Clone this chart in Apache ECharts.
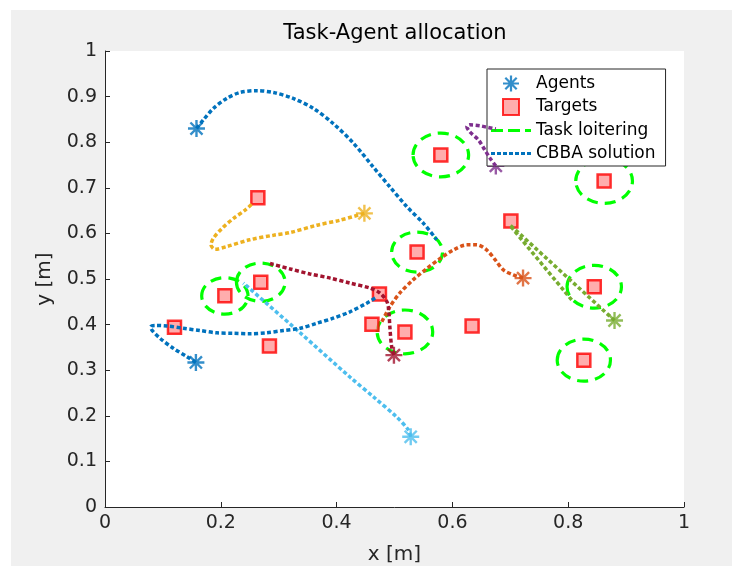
<!DOCTYPE html>
<html>
<head>
<meta charset="utf-8">
<script src="https://cdn.jsdelivr.net/npm/echarts@6/dist/echarts.min.js"></script>
<style>
  html, body { margin: 0; padding: 0; background: #ffffff; }
  #chart { position: absolute; left: 11px; top: 10px; width: 721px; height: 556px; background: #f0f0f0; }
</style>
</head>
<body>
<div id="chart"></div>
<script>
// Agent start positions [x, y] in metres, one colour per agent
const agentColors = ['#0072BD', '#D95319', '#EDB120', '#7E2F8E', '#77AC30', '#4DBEEE', '#A2142F', '#0072BD'];
const agents = [
  [0.158, 0.830], [0.722, 0.502], [0.448, 0.644], [0.675, 0.748],
  [0.880, 0.409], [0.528, 0.154], [0.499, 0.333], [0.157, 0.317]
];

// Target positions [x, y]
const targets = [
  [0.264, 0.678], [0.207, 0.463], [0.269, 0.493], [0.120, 0.394], [0.284, 0.353],
  [0.539, 0.559], [0.474, 0.467], [0.461, 0.401], [0.518, 0.384], [0.580, 0.772],
  [0.862, 0.715], [0.701, 0.627], [0.634, 0.397], [0.845, 0.483], [0.827, 0.322]
];

// Loitering circles: centre [x, y] and radius
const loiterCenters = [
  [0.207, 0.463], [0.269, 0.493], [0.539, 0.559], [0.518, 0.384],
  [0.580, 0.772], [0.862, 0.715], [0.845, 0.483], [0.827, 0.322]
];
const loiterRadii = [0.040, 0.042, 0.044, 0.048, 0.048, 0.049, 0.047, 0.046];

// CBBA paths, one per agent
const pathAgent1 = [
  [0.158, 0.830], [0.170, 0.849], [0.187, 0.874], [0.210, 0.896], [0.233, 0.909],
  [0.262, 0.913], [0.291, 0.909], [0.325, 0.896], [0.360, 0.874], [0.394, 0.841],
  [0.429, 0.798], [0.463, 0.746], [0.492, 0.702], [0.521, 0.659], [0.550, 0.622],
  [0.573, 0.586]
];
const pathAgent2 = [
  [0.722, 0.502], [0.705, 0.509], [0.688, 0.520], [0.674, 0.542], [0.659, 0.564],
  [0.642, 0.575], [0.625, 0.575], [0.602, 0.564], [0.579, 0.545], [0.556, 0.523],
  [0.532, 0.498], [0.509, 0.469], [0.492, 0.439], [0.478, 0.406]
];
const pathAgent3 = [
  [0.448, 0.644], [0.406, 0.629], [0.366, 0.618], [0.320, 0.602], [0.291, 0.596],
  [0.250, 0.586], [0.210, 0.571], [0.190, 0.565], [0.183, 0.575], [0.187, 0.589],
  [0.202, 0.611], [0.222, 0.633], [0.242, 0.651], [0.256, 0.667]
];
const pathAgent4 = [
  [0.675, 0.748], [0.665, 0.765], [0.656, 0.783], [0.645, 0.805], [0.630, 0.823],
  [0.625, 0.834], [0.630, 0.838], [0.648, 0.836], [0.659, 0.833], [0.675, 0.829]
];
const pathAgent5 = [
  [0.880, 0.409], [0.700, 0.618], [0.703, 0.612], [0.806, 0.454]
];
const pathAgent6 = [
  [0.528, 0.154], [0.524, 0.169], [0.504, 0.197], [0.466, 0.239], [0.423, 0.285],
  [0.337, 0.382], [0.239, 0.491]
];
const pathAgent7 = [
  [0.499, 0.333], [0.495, 0.352], [0.492, 0.395], [0.490, 0.432], [0.487, 0.450],
  [0.475, 0.469], [0.458, 0.480], [0.423, 0.491], [0.389, 0.502], [0.354, 0.511],
  [0.320, 0.522], [0.285, 0.534]
];
const pathAgent8 = [
  [0.157, 0.317], [0.141, 0.330], [0.118, 0.348], [0.095, 0.370], [0.081, 0.388],
  [0.079, 0.395], [0.086, 0.398], [0.107, 0.397], [0.135, 0.392], [0.164, 0.387],
  [0.193, 0.382], [0.222, 0.381], [0.250, 0.380], [0.279, 0.382], [0.308, 0.387],
  [0.337, 0.392], [0.366, 0.403], [0.394, 0.414], [0.423, 0.428], [0.452, 0.447],
  [0.469, 0.460]
];
const agentPaths = [pathAgent1, pathAgent2, pathAgent3, pathAgent4, pathAgent5, pathAgent6, pathAgent7, pathAgent8];

// Tick labels
const xTicks = ['0', '0.2', '0.4', '0.6', '0.8', '1'];
const yTicks = ['0', '0.1', '0.2', '0.3', '0.4', '0.5', '0.6', '0.7', '0.8', '0.9', '1'];

const FONT = 'DejaVu Sans';
const AXIS_COLOR = '#262626';

// Eight-armed asterisk marker and square marker
const STAR = 'path://M0 43H100V57H0Z M43 0H57V100H43Z M19.4 9.5L90.5 80.6L80.6 90.5L9.5 19.4Z M80.6 9.5L90.5 19.4L19.4 90.5L9.5 80.6Z';
const SQUARE = 'path://M0 0H10V10H0Z';
const DASH_ICON = 'path://M0 0H12V3H0Z M17 0H29V3H17Z M34 0H40V3H34Z';
const DOT_ICON = 'path://M0 0H4V3H0Z M6 0H10V3H6Z M12 0H16V3H12Z M18 0H22V3H18Z M24 0H28V3H24Z M30 0H34V3H30Z M36 0H40V3H36Z';

const chart = echarts.init(document.getElementById('chart'), null, { renderer: 'canvas' });

const pathSeries = agentPaths.map((p, i) => ({
  name: 'CBBA solution',
  type: 'line',
  data: p,
  color: agentColors[i],
  symbol: 'none',
  showSymbol: false,
  smooth: 0.3,
  silent: true,
  itemStyle: { color: agentColors[i] },
  lineStyle: { color: agentColors[i], width: 3.5, type: [4, 2.5] },
  z: 4
}));

const option = {
  animation: false,
  backgroundColor: '#f0f0f0',
  title: {
    text: 'Task-Agent allocation',
    left: 384,
    top: 13,
    padding: 0,
    textAlign: 'center',
    textStyle: { fontFamily: FONT, fontSize: 21, fontWeight: 'normal', color: '#000000' }
  },
  legend: {
    orient: 'vertical',
    left: 476,
    top: 59,
    padding: [6, 10, 4, 4],
    itemWidth: 40,
    itemHeight: 16,
    itemGap: 6,
    selectedMode: false,
    backgroundColor: '#ffffff',
    borderColor: AXIS_COLOR,
    borderWidth: 1,
    borderRadius: 0,
    textStyle: { fontFamily: FONT, fontSize: 17, color: '#000000' },
    data: [
      { name: 'Agents' },
      { name: 'Targets' },
      { name: 'Task loitering', icon: DASH_ICON },
      { name: 'CBBA solution', icon: DOT_ICON }
    ]
  },
  grid: {
    left: 94, top: 41, right: 48, bottom: 59,
    show: true, backgroundColor: '#ffffff', borderWidth: 0,
    containLabel: false, outerBoundsMode: 'none'
  },
  xAxis: {
    type: 'value', min: 0, max: 1, interval: 0.2,
    name: 'x [m]', nameLocation: 'middle', nameGap: 38,
    nameTextStyle: { fontFamily: FONT, fontSize: 20, color: AXIS_COLOR },
    axisLine: { show: true, onZero: false, lineStyle: { color: AXIS_COLOR, width: 1 } },
    axisTick: { show: true, inside: true, length: 5, lineStyle: { color: AXIS_COLOR } },
    axisLabel: {
      fontFamily: FONT, fontSize: 19, color: AXIS_COLOR, margin: 7,
      formatter: (v) => xTicks[Math.round(v / 0.2)]
    },
    splitLine: { show: false }
  },
  yAxis: {
    type: 'value', min: 0, max: 1, interval: 0.1,
    name: 'y [m]', nameLocation: 'middle', nameGap: 50, nameRotate: 90,
    nameTextStyle: { fontFamily: FONT, fontSize: 20, color: AXIS_COLOR },
    axisLine: { show: true, onZero: false, lineStyle: { color: AXIS_COLOR, width: 1 } },
    axisTick: { show: true, inside: true, length: 5, lineStyle: { color: AXIS_COLOR } },
    axisLabel: {
      fontFamily: FONT, fontSize: 19, color: AXIS_COLOR, margin: 8,
      formatter: (v) => yTicks[Math.round(v / 0.1)]
    },
    splitLine: { show: false }
  },
  series: [
    {
      name: 'Agents',
      type: 'scatter',
      symbol: STAR,
      symbolSize: 17,
      silent: true,
      itemStyle: { color: '#0072BD' },
      data: agents.map((p, i) => ({ value: p, itemStyle: { color: agentColors[i] } })),
      z: 3
    },
    {
      name: 'Targets',
      type: 'scatter',
      symbol: SQUARE,
      symbolSize: 13,
      silent: true,
      itemStyle: { color: '#ff9999', borderColor: '#ff0000', borderWidth: 2.5 },
      data: targets,
      z: 3
    },
    {
      name: 'Task loitering',
      type: 'custom',
      silent: true,
      itemStyle: { color: '#00ff00' },
      encode: { x: 0, y: 1 },
      data: loiterCenters.map((c, i) => [c[0], c[1], loiterRadii[i]]),
      renderItem: (params, api) => {
        const c = api.coord([api.value(0), api.value(1)]);
        const s = api.size([api.value(2), api.value(2)]);
        return {
          type: 'ellipse',
          shape: { cx: c[0], cy: c[1], rx: s[0], ry: s[1] },
          style: { fill: 'none', stroke: '#00ff00', lineWidth: 3.2, lineDash: [11, 7] }
        };
      },
      z: 3
    }
  ].concat(pathSeries)
};

chart.setOption(option);
</script>
</body>
</html>
